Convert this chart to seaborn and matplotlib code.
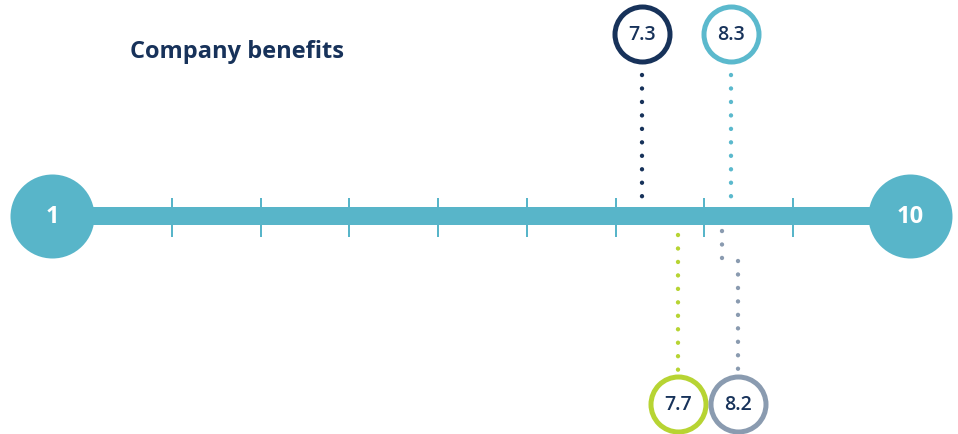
import matplotlib
matplotlib.use("Agg")
import matplotlib.pyplot as plt
import seaborn as sns
from matplotlib.transforms import ScaledTranslation

# Scale and scores
scale_ends = [1, 10]
tick_values = [2, 3, 4, 5, 6, 7, 8, 9]
scores = [7.3, 8.3, 7.7, 8.2]
score_labels = ["7.3", "8.3", "7.7", "8.2"]
score_sides = ["above", "above", "below", "below"]
title = "Company benefits"

# Colours
TEAL = "#58b5c9"
NAVY = "#17325a"
score_colors = ["#17325a", "#5bb9cd", "#b7d433", "#8a9bb0"]

sns.set_theme(style="white")
plt.rcParams["font.family"] = ["Open Sans", "DejaVu Sans"]

W, H, DPI = 958, 434, 100
PT = 72 / DPI  # points per pixel

fig = plt.figure(figsize=(W / DPI, H / DPI), dpi=DPI)
ax = fig.add_axes([0, 0, 1, 1])
ax.axis("off")

# horizontal scale: 88.7 px per unit, tick "2" at x=172 px
unit_px = 88.714
x_left = 2 - 172 / unit_px
ax.set_xlim(x_left, x_left + W / unit_px)
ax.set_ylim(H, 0)


def shift(dx_px):
    return ax.transData + ScaledTranslation(dx_px / DPI, 0, fig.dpi_scale_trans)


BAR_Y = 216

# main bar and tick marks
sns.lineplot(x=scale_ends, y=[BAR_Y, BAR_Y], color=TEAL, lw=18 * PT, ax=ax,
             zorder=1, solid_capstyle="butt")
ax.vlines(tick_values, 198, 237, color=TEAL, lw=2 * PT, zorder=1)

# end caps sit just outside the scale ends
cap_shift = [-31, 28]
for v, dx in zip(scale_ends, cap_shift):
    tr = shift(dx)
    ax.scatter([v], [BAR_Y], s=(84 * PT) ** 2, color=TEAL, linewidths=0,
               transform=tr, zorder=3)
    ax.text(v, BAR_Y + 1, str(v), transform=tr, color="white", fontsize=17,
            fontweight="bold", ha="center", va="center", zorder=4)

# score badges with dotted leaders
dot_style = dict(lw=4.4 * PT, linestyle=(0, (0.01, 3.05)), dash_capstyle="round",
                 zorder=2)
badge_shift = [0, 0, 0, 16]
for v, lab, side, col, dx in zip(scores, score_labels, score_sides,
                                 score_colors, badge_shift):
    if side == "above":
        by = 34
        ax.plot([v, v], [75, 200], color=col, **dot_style)
    else:
        by = 404
        if dx:
            ax.plot([v, v], [231, 261], color=col, **dot_style)
            ax.plot([v, v], [261, 376], color=col, transform=shift(dx),
                    **dot_style)
        else:
            ax.plot([v, v], [235, 376], color=col, **dot_style)
    tr = shift(dx)
    sns.scatterplot(x=[v], y=[by], s=(55 * PT) ** 2, color="white",
                    edgecolor=col, linewidth=5 * PT, ax=ax, zorder=4,
                    legend=False, transform=tr)
    ax.text(v, by + 1, lab, transform=tr, color=NAVY, fontsize=14,
            fontweight="semibold", ha="center", va="center", zorder=5)

fig.text(130 / W, 1 - 52 / H, title, color=NAVY, fontsize=17,
         fontweight="bold", ha="left", va="center")

fig.savefig("out.png", dpi=DPI, facecolor="white")
